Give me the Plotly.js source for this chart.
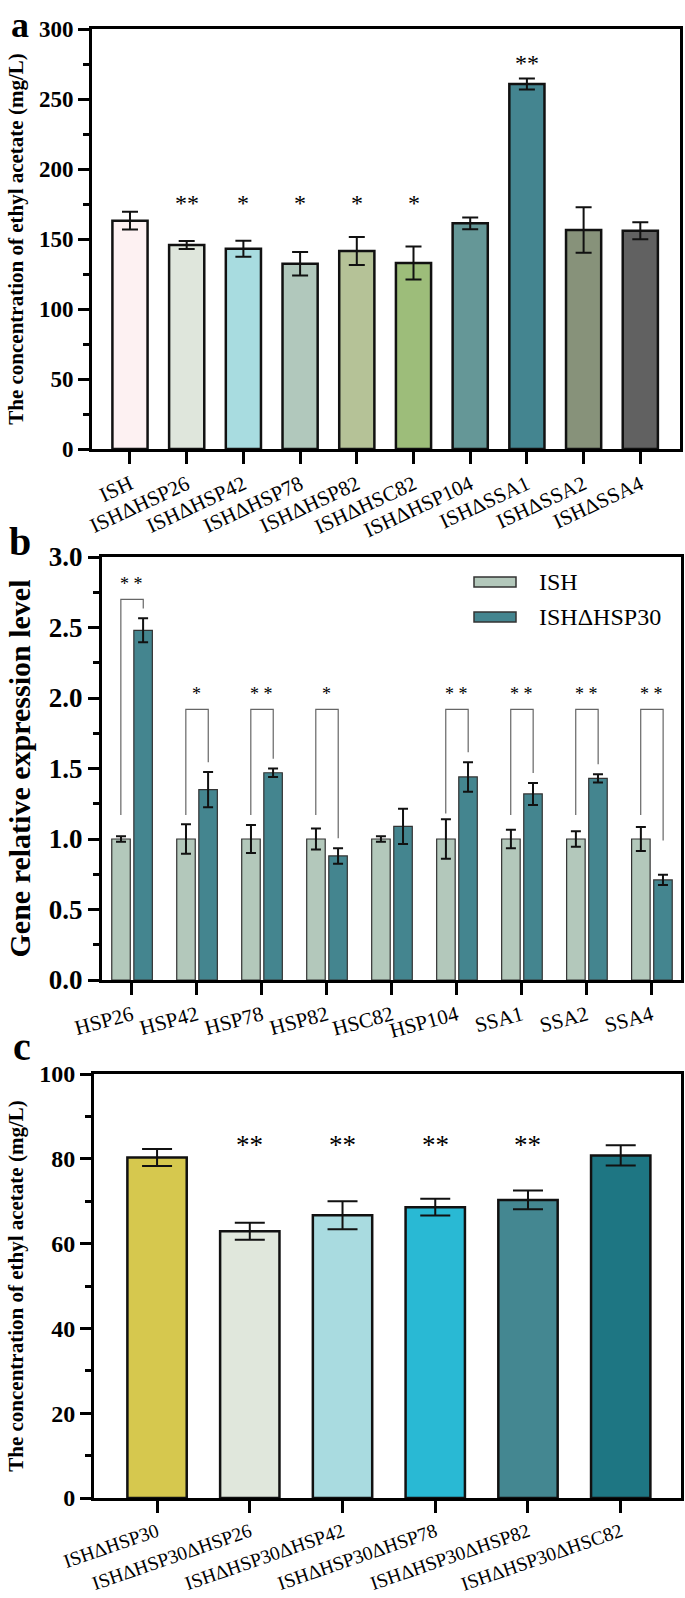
<!DOCTYPE html>
<html><head><meta charset="utf-8">
<script src="https://cdn.plot.ly/plotly-3.0.1.min.js"></script>
<style>html,body{margin:0;padding:0;background:#fff}</style>
</head><body><div id="chart" style="width:685px;height:1598px"></div>
<script>
// ---------- Data ----------
// Panel a
const strainsA = ['ISH','ISHΔHSP26','ISHΔHSP42','ISHΔHSP78','ISHΔHSP82','ISHΔHSC82','ISHΔHSP104','ISHΔSSA1','ISHΔSSA2','ISHΔSSA4'];
const concA = [163.1, 145.7, 143.1, 132.4, 141.4, 132.9, 161.2, 260.7, 156.4, 155.9];
const errA  = [6.3, 2.8, 5.7, 8.4, 10.0, 11.8, 4.2, 3.9, 16.2, 6.1];
const sigA  = ['', '**', '*', '*', '*', '*', '', '**', '', ''];

// Panel b
const genesB   = ['HSP26','HSP42','HSP78','HSP82','HSC82','HSP104','SSA1','SSA2','SSA4'];
const ishB     = [1.00, 1.00, 1.00, 1.00, 1.00, 1.00, 1.00, 1.00, 1.00];
const ishErrB  = [0.02, 0.105, 0.10, 0.075, 0.02, 0.14, 0.065, 0.055, 0.085];
const mutB     = [2.48, 1.35, 1.47, 0.88, 1.09, 1.44, 1.32, 1.43, 0.71];
const mutErrB  = [0.085, 0.125, 0.03, 0.055, 0.125, 0.105, 0.078, 0.03, 0.037];
const sigB     = ['* *', '*', '* *', '*', '', '* *', '* *', '* *', '* *'];
const seriesB  = ['ISH', 'ISHΔHSP30'];

// Panel c
const strainsC = ['ISHΔHSP30','ISHΔHSP30ΔHSP26','ISHΔHSP30ΔHSP42','ISHΔHSP30ΔHSP78','ISHΔHSP30ΔHSP82','ISHΔHSP30ΔHSC82'];
const concC = [80.3, 62.9, 66.7, 68.6, 70.3, 80.8];
const errC  = [2.0, 2.0, 3.3, 2.0, 2.2, 2.4];
const sigC  = ['', '**', '**', '**', '**', ''];

// ---------- Styles ----------
const FONT = '"Liberation Serif", "Times New Roman", serif';
const colorsA = ['#fdf1f2','#dfe6dc','#a8dce0','#b1c8bc','#b5c297','#9dbd7a','#659797','#448590','#87927a','#616161'];
const colorsB = ['#b3c8bb', '#44858f'];
const colorsC = ['#d6c84e','#e0e7dc','#a9dbe0','#29b9d4','#448791','#1e7683'];
const W = 685, H = 1598;
const px = v => v / W;
const py = v => 1 - v / H;

const traces = [
  {type:'bar', x: strainsA, y: concA, xaxis:'x', yaxis:'y', width: 0.62,
   marker:{color: colorsA, line:{color:'#111', width:2.5}},
   error_y:{type:'data', array: errA, color:'#111', thickness:2, width:8},
   showlegend:false, name:'panel a'},
  {type:'bar', x: genesB, y: ishB, xaxis:'x2', yaxis:'y2', width:0.285, offset:-0.31,
   marker:{color: colorsB[0], line:{color:'#333', width:1.2}},
   error_y:{type:'data', array: ishErrB, color:'#111', thickness:2, width:5},
   name: seriesB[0], showlegend:false},
  {type:'bar', x: genesB, y: mutB, xaxis:'x2', yaxis:'y2', width:0.285, offset:0.03,
   marker:{color: colorsB[1], line:{color:'#333', width:1.2}},
   error_y:{type:'data', array: mutErrB, color:'#111', thickness:2, width:5},
   name: seriesB[1], showlegend:false},
  {type:'bar', x: strainsC, y: concC, xaxis:'x3', yaxis:'y3', width: 0.64,
   marker:{color: colorsC, line:{color:'#111', width:2.5}},
   error_y:{type:'data', array: errC, color:'#111', thickness:2, width:15},
   showlegend:false, name:'panel c'}
];

function xAx(domain, anchor, range, angle, size){
  return {domain, anchor, type:'category', range, showline:true, linewidth:3, linecolor:'#000',
    mirror:true, ticks:'outside', ticklen:12, tickwidth:3, tickcolor:'#000', tickangle:angle,
    tickfont:{family:FONT, size, color:'#000'}, showgrid:false, zeroline:false, fixedrange:true};
}
function yAx(domain, anchor, range, dtick, minor, size, title, tsize, fmt){
  return {domain, anchor, range, dtick, tick0:0, tickformat: fmt, showline:true, linewidth:3, linecolor:'#000',
    mirror:true, ticks:'outside', ticklen:11, tickwidth:3, tickcolor:'#000',
    minor:{dtick:minor, ticks:'outside', ticklen:6, tickwidth:3, tickcolor:'#000'},
    tickfont:{family:FONT, size, color:'#000', weight:'bold'}, showgrid:false, zeroline:false,
    title:{text:title, font:{family:FONT, size:tsize, color:'#000', weight:'bold'}, standoff:10},
    fixedrange:true};
}

const annotations = [];
const shapes = [];
// panel letters
[['a',20,25],['b',20,541],['c',22,1046]].forEach(([t,x,y])=>{
  annotations.push({text:t, xref:'paper', yref:'paper', x:px(x), y:py(y), xanchor:'center', yanchor:'middle',
    showarrow:false, font:{family:FONT, size:(t==='a'?36:40), color:'#000', weight:'bold'}});
});
// panel a stars
sigA.forEach((s,i)=>{ if(!s) return;
  annotations.push({text:s, xref:'x', yref:'y', x:i, y: (i===7 ? 276 : 176), showarrow:false,
    yanchor:'middle', font:{family:FONT, size:24, color:'#000'}});
});
// panel c stars
sigC.forEach((s,i)=>{ if(!s) return;
  annotations.push({text:s, xref:'x3', yref:'y3', x:i, y:83.2, showarrow:false,
    yanchor:'middle', font:{family:FONT, size:27, color:'#000'}});
});
// panel b brackets and stars
sigB.forEach((s,i)=>{ if(!s) return;
  const top = (i===0) ? 2.70 : 1.92;
  const lb = Math.max(ishB[i] + ishErrB[i] + 0.04, 1.17);
  const rb = Math.max(mutB[i] + mutErrB[i] + 0.07, 0.99);
  const xl = i - 0.17, xr = i + 0.175;
  shapes.push({type:'path', xref:'x2', yref:'y2',
    path:`M ${xl} ${lb} L ${xl} ${top} L ${xr} ${top} L ${xr} ${rb}`,
    line:{color:'#666', width:1.2}});
  annotations.push({text:s, xref:'x2', yref:'y2', x:i, y: top + 0.11, showarrow:false,
    yanchor:'middle', font:{family:FONT, size:18, color:'#000'}});
});
// panel b legend (drawn)
[[582, 0],[617, 1]].forEach(([y,k])=>{
  shapes.push({type:'rect', xref:'paper', yref:'paper', x0:px(474), x1:px(516), y0:py(y-5), y1:py(y+5),
    fillcolor: colorsB[k], line:{color:'#333', width:1.5}});
  annotations.push({text: seriesB[k], xref:'paper', yref:'paper', x:px(537), y:py(y), xanchor:'left',
    yanchor:'middle', showarrow:false, font:{family:FONT, size:24, color:'#000'}});
});

const layout = {
  width: W, height: H, margin:{l:0,r:0,t:0,b:0}, paper_bgcolor:'#fff', plot_bgcolor:'#fff',
  barmode:'overlay', showlegend:false,
  xaxis:  xAx([px(92), px(680)], 'y', [-0.67, 9.7], -25, 21),
  yaxis:  yAx([py(449), py(29)], 'x', [0,300], 50, 25, 23, 'The concentration of ethyl acetate (mg/L)', 21),
  xaxis2: xAx([px(102), px(681)], 'y2', [-0.46, 8.45], -15, 21),
  yaxis2: yAx([py(980), py(557)], 'x2', [0,3], 0.5, 0.25, 27, 'Gene relative expression level', 30, '.1f'),
  xaxis3: xAx([px(94), px(681)], 'y3', [-0.68, 5.65], -19, 19.5),
  yaxis3: yAx([py(1498), py(1074)], 'x3', [0,100], 20, 10, 24, 'The concentration of ethyl acetate (mg/L)', 21),
  annotations, shapes
};

Plotly.newPlot('chart', traces, layout, {staticPlot:true, displayModeBar:false});
</script></body></html>
